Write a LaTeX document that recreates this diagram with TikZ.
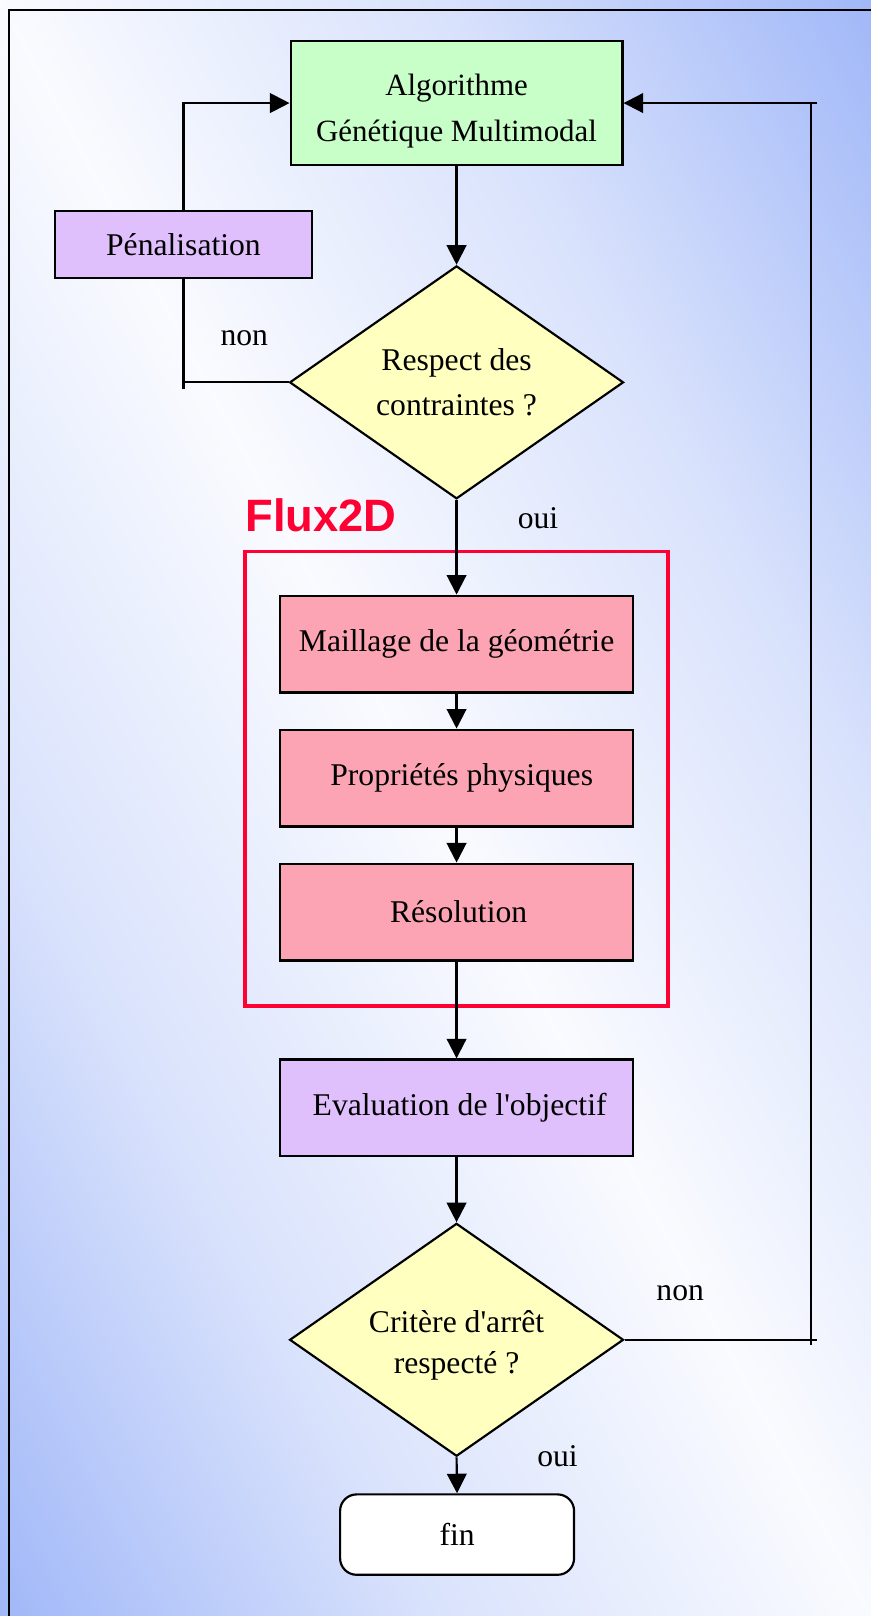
\documentclass[tikz,border=0pt]{standalone}
\usepackage{fontspec}
\setmainfont{Liberation Serif}
\newfontfamily\arialfont{Liberation Sans}
\usetikzlibrary{shapes.geometric,arrows.meta,calc}
\definecolor{bgblue}{RGB}{160,183,248}
\colorlet{bgmid}{bgblue!40!white}
\colorlet{bgwhite}{bgblue!6!white}
\definecolor{boxgreen}{RGB}{200,254,200}
\definecolor{boxlav}{RGB}{224,192,252}
\definecolor{boxyel}{RGB}{255,255,192}
\definecolor{boxpink}{RGB}{252,164,180}
\definecolor{fluxred}{RGB}{255,0,51}
\pgfdeclarehorizontalshading{bgsh}{100bp}{color(0bp)=(bgblue); color(25bp)=(bgblue); color(37.5bp)=(bgmid); color(50bp)=(bgwhite); color(62.5bp)=(bgmid); color(75bp)=(bgblue); color(100bp)=(bgblue)}
\begin{document}
\begin{tikzpicture}[x=1pt,y=1pt,
  txt/.style={font=\fontsize{30.7}{45}\selectfont},
  boxbase/.style={draw=black,line width=2.1pt,inner sep=0pt,align=center,txt},
  gbox/.style={boxbase,fill=boxgreen,minimum width=322pt,minimum height=120pt},
  penbox/.style={boxbase,fill=boxlav,minimum width=250pt,minimum height=65pt},
  evalbox/.style={boxbase,fill=boxlav,minimum width=342pt,minimum height=94pt},
  pbox/.style={boxbase,fill=boxpink,minimum width=342pt,minimum height=94pt},
  dia/.style={boxbase,shape=diamond,fill=boxyel,shape aspect=1.43,minimum width=324pt,minimum height=226pt},
  finbox/.style={boxbase,fill=white,rounded corners=16pt,minimum width=227pt,minimum height=78pt},
  lbl/.style={txt,inner sep=0pt},
  conn/.style={line width=2.1pt,draw=black},
  arr/.style={conn,-{Triangle[length=19pt,width=19pt]}}
]
\useasboundingbox (0,0) rectangle (845,-1568);
% background
\begin{scope}
  \clip (0,0) rectangle (845,-1568);
  \begin{scope}[transform canvas={shift={(422.5pt,-784pt)},rotate=28.32}]
    \shade[shading=bgsh] (-750,-1100) rectangle (750,1100);
  \end{scope}
\end{scope}
\draw[line width=2pt] (9,-1580) -- (9,-10) -- (860,-10);

% nodes
\node[gbox,align=none,font=\fontsize{30}{45}\selectfont] (algo) at (443,-100) {\raisebox{-6pt}[\height][\depth]{\begin{tabular}{@{}c@{}}Algorithme\\Génétique Multimodal\end{tabular}}};
\node[penbox] (pen) at (178,-237.5) {Pénalisation};
\node[dia,font=\fontsize{30.7}{43}\selectfont] (d1) at (443,-371) {Respect des\\contraintes ?};
\node[draw=fluxred,line width=3.5pt,minimum width=410pt,minimum height=441pt,inner sep=0pt] (frame) at (443,-755.5) {};
\node[anchor=base west,inner sep=0pt,text=fluxred,font=\arialfont\bfseries\fontsize{44}{44}\selectfont] (flux) at (238,-516) {Flux2D};
\node[pbox] (mail) at (443,-625) {Maillage de la géométrie};
\node[pbox] (prop) at (443,-755) {\hspace*{10pt}Propriétés physiques};
\node[pbox] (reso) at (443,-885) {\hspace*{4pt}Résolution};
\node[evalbox] (eval) at (443,-1075) {\hspace*{6pt}Evaluation de l\textquotesingle objectif};
\node[dia,align=none,font=\fontsize{30.7}{39}\selectfont] (d2) at (443,-1300) {\raisebox{-5pt}[\height][\depth]{\begin{tabular}{@{}c@{}}Critère d\textquotesingle arrêt\\respecté ?\end{tabular}}};
\node[finbox] (fin) at (443.5,-1489) {fin};

% labels
\node[lbl] (non1) at (237,-328) {non};
\node[lbl] (oui1) at (522,-503) {oui};
\node[lbl] (non2) at (660,-1255) {non};
\node[lbl] (oui2) at (541,-1413) {oui};

% coordinates
\coordinate (lb) at (pen.south |- d1.west);
\coordinate (rb) at (787,-1300);
\coordinate (rt) at (787,-100);

% connectors
\draw[arr] (algo.south) -- (d1.north);
\draw[arr] (d1.south) -- (mail.north);
\draw[arr] (mail.south) -- (prop.north);
\draw[arr] (prop.south) -- (reso.north);
\draw[arr] (reso.south) -- (eval.north);
\draw[arr] (eval.south) -- (d2.north);
\draw[arr] (d2.south) -- (fin.north);
% left loop
\draw[conn] (d1.west) -- (lb);
\draw[conn] ($(lb)+(0,-6)$) -- (pen.south);
\draw[arr] (pen.north) |- (algo.west);
% right loop
\draw[conn] (d2.east) -- ($(rb)+(6,0)$);
\draw[conn] ($(rb)+(0,-5)$) -- (rt);
\draw[arr] ($(rt)+(6,0)$) -- (algo.east);
\end{tikzpicture}
\end{document}
